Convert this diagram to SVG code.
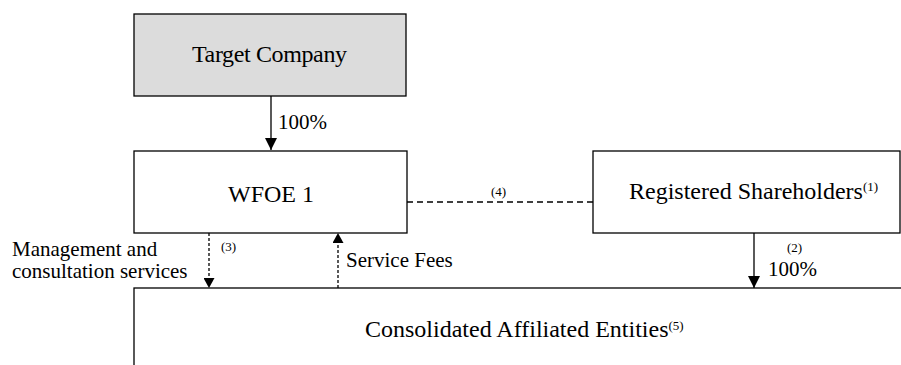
<svg xmlns="http://www.w3.org/2000/svg" width="901" height="365" viewBox="0 0 901 365">
<style>
.box{fill:#fff;stroke:#000;stroke-width:1.3}
.shade{fill:#dcdcdc}
.t{font-family:"Liberation Serif","Times New Roman",serif;font-size:24px;fill:#000}
.l{font-family:"Liberation Serif","Times New Roman",serif;font-size:21px;fill:#000}
.s{font-family:"Liberation Serif","Times New Roman",serif;font-size:13px;fill:#000}
.solid{stroke:#000;stroke-width:1.3;fill:none}
.dash{stroke:#000;stroke-width:1.3;fill:none;stroke-dasharray:6 4}
.dot{stroke:#000;stroke-width:1.3;fill:none;stroke-dasharray:3 2}
</style>
<defs>
<marker id="ah" markerUnits="userSpaceOnUse" markerWidth="12" markerHeight="12" viewBox="0 0 12 12" refX="12" refY="6" orient="auto">
<path d="M0,0 L12,6 L0,12 Z" fill="#000"/>
</marker>
<marker id="ahs" markerUnits="userSpaceOnUse" markerWidth="10" markerHeight="11" viewBox="0 0 10 11" refX="10" refY="5.5" orient="auto">
<path d="M0,0 L10,5.5 L0,11 Z" fill="#000"/>
</marker>
</defs>
<g id="target">
<rect class="box shade" x="134" y="14" width="272" height="82"/>
<text class="t" x="192" y="62" textLength="155">Target Company</text>
</g>
<g id="wfoe">
<rect class="box" x="134" y="151" width="273" height="82"/>
<text class="t" x="228" y="202">WFOE 1</text>
</g>
<g id="registered">
<rect class="box" x="593" y="151" width="307" height="82"/>
<text class="t" x="629" y="199">Registered Shareholders<tspan class="s" dy="-8">(1)</tspan></text>
</g>
<g id="consolidated">
<rect class="box" x="134" y="288" width="790" height="100"/>
<text class="t" x="365" y="337">Consolidated Affiliated Entities<tspan class="s" dy="-7">(5)</tspan></text>
</g>
<g id="connectors">
<line class="solid" x1="271" y1="96" x2="271" y2="150" marker-end="url(#ah)"/>
<text class="l" x="278" y="129">100%</text>
<line class="dash" x1="407" y1="202" x2="593" y2="202"/>
<text class="s" x="491" y="196">(4)</text>
<line class="solid" x1="754" y1="233" x2="754" y2="288" marker-end="url(#ah)"/>
<text class="s" x="787" y="252">(2)</text>
<text class="l" x="768" y="276">100%</text>
<line class="dot" x1="209" y1="233" x2="209" y2="288" marker-end="url(#ahs)"/>
<text class="s" x="221" y="251">(3)</text>
<text class="l" x="12" y="256">Management and</text>
<text class="l" x="12" y="278">consultation services</text>
<line class="dot" x1="338" y1="288" x2="338" y2="233" marker-end="url(#ahs)"/>
<text class="l" x="346" y="267">Service Fees</text>
</g>
</svg>
